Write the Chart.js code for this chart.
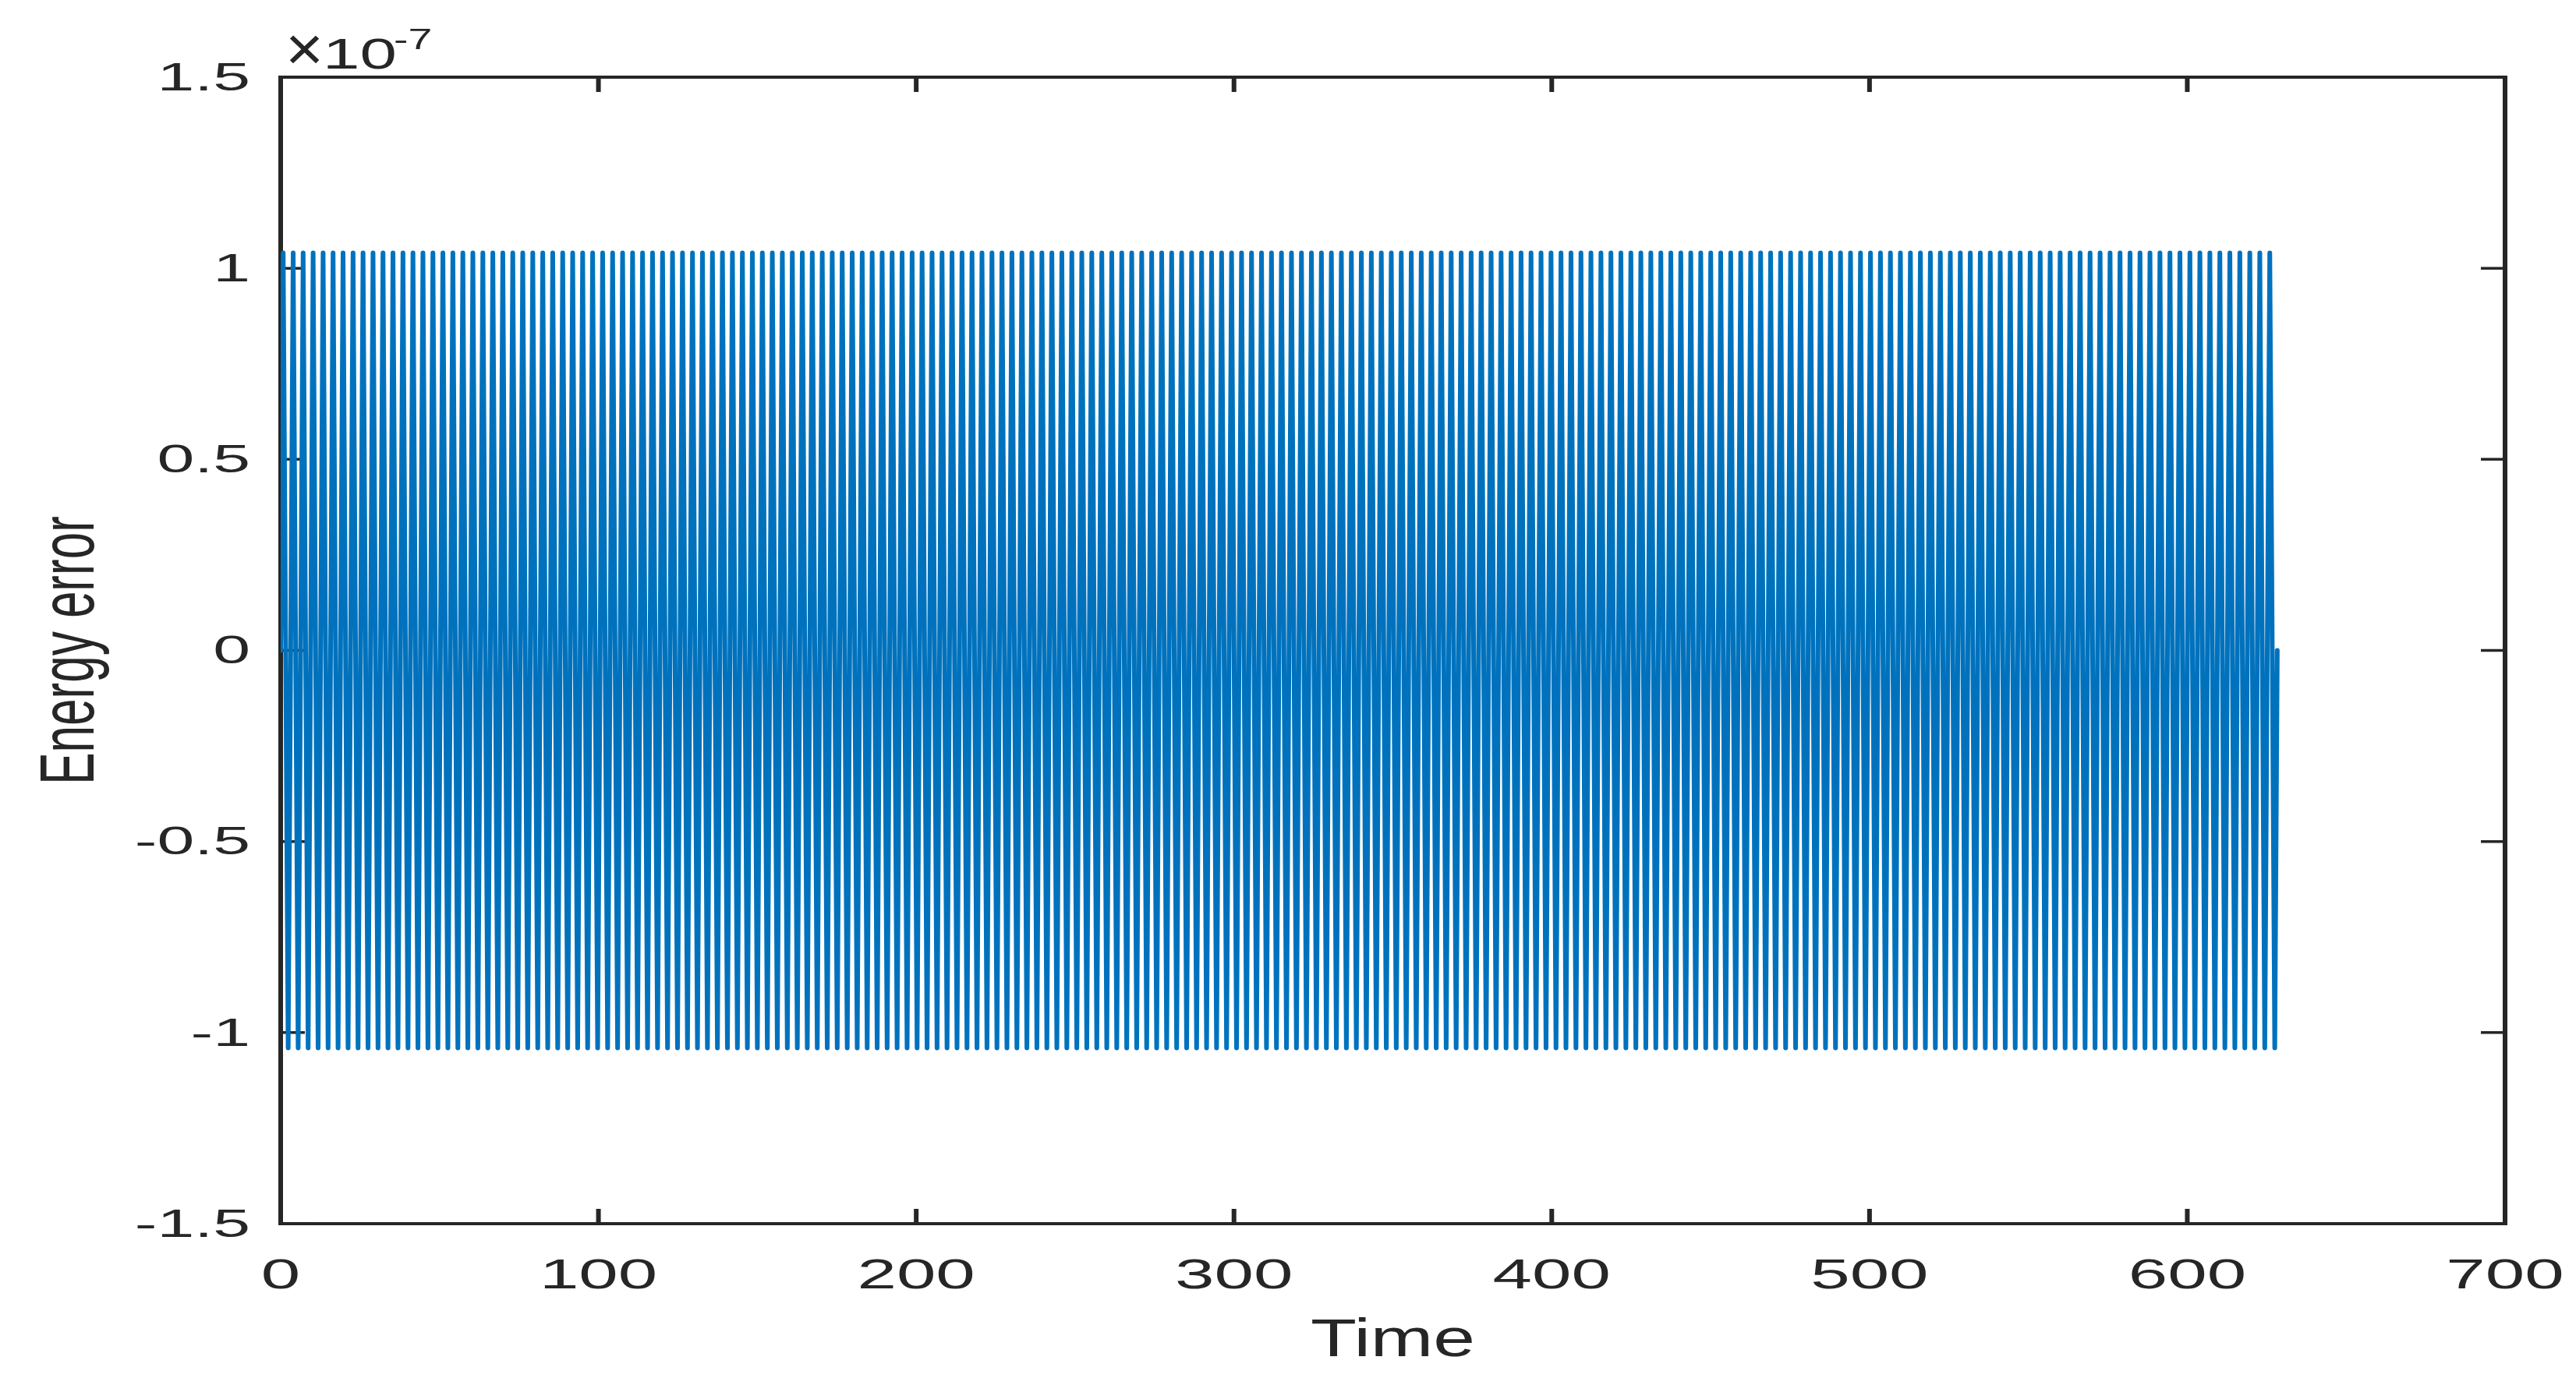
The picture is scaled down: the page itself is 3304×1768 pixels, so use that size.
<!DOCTYPE html>
<html>
<head>
<meta charset="utf-8">
<script src="https://cdn.jsdelivr.net/npm/chart.js@4.4.1/dist/chart.umd.min.js"></script>
<style>
  html,body{margin:0;padding:0;background:#fff;}
  canvas{display:block;}
</style>
</head>
<body>
<canvas id="c" width="3304" height="1768"></canvas>
<script>
// ── DATA ─────────────────────────────────────────────────────
// time of each extreme (start, peaks/troughs, end)
var timeVals=[0,
0.79,2.36,3.93,5.50, 7.07,8.64,10.21,11.78, 13.35,14.92,16.49,18.06, 19.63,21.21,22.78,24.35,
25.92,27.49,29.06,30.63, 32.20,33.77,35.34,36.91, 38.48,40.06,41.63,43.20, 44.77,46.34,47.91,49.48,
51.05,52.62,54.19,55.76, 57.33,58.90,60.48,62.05, 63.62,65.19,66.76,68.33, 69.90,71.47,73.04,74.61,
76.18,77.75,79.33,80.90, 82.47,84.04,85.61,87.18, 88.75,90.32,91.89,93.46, 95.03,96.60,98.17,99.75,
101.32,102.89,104.46,106.03, 107.60,109.17,110.74,112.31, 113.88,115.45,117.02,118.60, 120.17,121.74,123.31,124.88,
126.45,128.02,129.59,131.16, 132.73,134.30,135.87,137.44, 139.02,140.59,142.16,143.73, 145.30,146.87,148.44,150.01,
151.58,153.15,154.72,156.29, 157.87,159.44,161.01,162.58, 164.15,165.72,167.29,168.86, 170.43,172.00,173.57,175.14,
176.71,178.29,179.86,181.43, 183.00,184.57,186.14,187.71, 189.28,190.85,192.42,193.99, 195.56,197.13,198.71,200.28,
201.85,203.42,204.99,206.56, 208.13,209.70,211.27,212.84, 214.41,215.98,217.56,219.13, 220.70,222.27,223.84,225.41,
226.98,228.55,230.12,231.69, 233.26,234.83,236.40,237.98, 239.55,241.12,242.69,244.26, 245.83,247.40,248.97,250.54,
252.11,253.68,255.25,256.83, 258.40,259.97,261.54,263.11, 264.68,266.25,267.82,269.39, 270.96,272.53,274.10,275.67,
277.25,278.82,280.39,281.96, 283.53,285.10,286.67,288.24, 289.81,291.38,292.95,294.52, 296.10,297.67,299.24,300.81,
302.38,303.95,305.52,307.09, 308.66,310.23,311.80,313.37, 314.94,316.52,318.09,319.66, 321.23,322.80,324.37,325.94,
327.51,329.08,330.65,332.22, 333.79,335.37,336.94,338.51, 340.08,341.65,343.22,344.79, 346.36,347.93,349.50,351.07,
352.64,354.21,355.79,357.36, 358.93,360.50,362.07,363.64, 365.21,366.78,368.35,369.92, 371.49,373.06,374.63,376.21,
377.78,379.35,380.92,382.49, 384.06,385.63,387.20,388.77, 390.34,391.91,393.48,395.06, 396.63,398.20,399.77,401.34,
402.91,404.48,406.05,407.62, 409.19,410.76,412.33,413.90, 415.48,417.05,418.62,420.19, 421.76,423.33,424.90,426.47,
428.04,429.61,431.18,432.75, 434.33,435.90,437.47,439.04, 440.61,442.18,443.75,445.32, 446.89,448.46,450.03,451.60,
453.17,454.75,456.32,457.89, 459.46,461.03,462.60,464.17, 465.74,467.31,468.88,470.45, 472.02,473.60,475.17,476.74,
478.31,479.88,481.45,483.02, 484.59,486.16,487.73,489.30, 490.87,492.44,494.02,495.59, 497.16,498.73,500.30,501.87,
503.44,505.01,506.58,508.15, 509.72,511.29,512.87,514.44, 516.01,517.58,519.15,520.72, 522.29,523.86,525.43,527.00,
528.57,530.14,531.71,533.29, 534.86,536.43,538.00,539.57, 541.14,542.71,544.28,545.85, 547.42,548.99,550.56,552.13,
553.71,555.28,556.85,558.42, 559.99,561.56,563.13,564.70, 566.27,567.84,569.41,570.98, 572.56,574.13,575.70,577.27,
578.84,580.41,581.98,583.55, 585.12,586.69,588.26,589.83, 591.40,592.98,594.55,596.12, 597.69,599.26,600.83,602.40,
603.97,605.54,607.11,608.68, 610.25,611.83,613.40,614.97, 616.54,618.11,619.68,621.25, 622.82,624.39,625.96,627.53,
628.32];

// energy error at those times, in units of 1e-7
var errVals=[0,
1.04,-1.04,1.04,-1.04, 1.04,-1.04,1.04,-1.04, 1.04,-1.04,1.04,-1.04, 1.04,-1.04,1.04,-1.04,
1.04,-1.04,1.04,-1.04, 1.04,-1.04,1.04,-1.04, 1.04,-1.04,1.04,-1.04, 1.04,-1.04,1.04,-1.04,
1.04,-1.04,1.04,-1.04, 1.04,-1.04,1.04,-1.04, 1.04,-1.04,1.04,-1.04, 1.04,-1.04,1.04,-1.04,
1.04,-1.04,1.04,-1.04, 1.04,-1.04,1.04,-1.04, 1.04,-1.04,1.04,-1.04, 1.04,-1.04,1.04,-1.04,
1.04,-1.04,1.04,-1.04, 1.04,-1.04,1.04,-1.04, 1.04,-1.04,1.04,-1.04, 1.04,-1.04,1.04,-1.04,
1.04,-1.04,1.04,-1.04, 1.04,-1.04,1.04,-1.04, 1.04,-1.04,1.04,-1.04, 1.04,-1.04,1.04,-1.04,
1.04,-1.04,1.04,-1.04, 1.04,-1.04,1.04,-1.04, 1.04,-1.04,1.04,-1.04, 1.04,-1.04,1.04,-1.04,
1.04,-1.04,1.04,-1.04, 1.04,-1.04,1.04,-1.04, 1.04,-1.04,1.04,-1.04, 1.04,-1.04,1.04,-1.04,
1.04,-1.04,1.04,-1.04, 1.04,-1.04,1.04,-1.04, 1.04,-1.04,1.04,-1.04, 1.04,-1.04,1.04,-1.04,
1.04,-1.04,1.04,-1.04, 1.04,-1.04,1.04,-1.04, 1.04,-1.04,1.04,-1.04, 1.04,-1.04,1.04,-1.04,
1.04,-1.04,1.04,-1.04, 1.04,-1.04,1.04,-1.04, 1.04,-1.04,1.04,-1.04, 1.04,-1.04,1.04,-1.04,
1.04,-1.04,1.04,-1.04, 1.04,-1.04,1.04,-1.04, 1.04,-1.04,1.04,-1.04, 1.04,-1.04,1.04,-1.04,
1.04,-1.04,1.04,-1.04, 1.04,-1.04,1.04,-1.04, 1.04,-1.04,1.04,-1.04, 1.04,-1.04,1.04,-1.04,
1.04,-1.04,1.04,-1.04, 1.04,-1.04,1.04,-1.04, 1.04,-1.04,1.04,-1.04, 1.04,-1.04,1.04,-1.04,
1.04,-1.04,1.04,-1.04, 1.04,-1.04,1.04,-1.04, 1.04,-1.04,1.04,-1.04, 1.04,-1.04,1.04,-1.04,
1.04,-1.04,1.04,-1.04, 1.04,-1.04,1.04,-1.04, 1.04,-1.04,1.04,-1.04, 1.04,-1.04,1.04,-1.04,
1.04,-1.04,1.04,-1.04, 1.04,-1.04,1.04,-1.04, 1.04,-1.04,1.04,-1.04, 1.04,-1.04,1.04,-1.04,
1.04,-1.04,1.04,-1.04, 1.04,-1.04,1.04,-1.04, 1.04,-1.04,1.04,-1.04, 1.04,-1.04,1.04,-1.04,
1.04,-1.04,1.04,-1.04, 1.04,-1.04,1.04,-1.04, 1.04,-1.04,1.04,-1.04, 1.04,-1.04,1.04,-1.04,
1.04,-1.04,1.04,-1.04, 1.04,-1.04,1.04,-1.04, 1.04,-1.04,1.04,-1.04, 1.04,-1.04,1.04,-1.04,
1.04,-1.04,1.04,-1.04, 1.04,-1.04,1.04,-1.04, 1.04,-1.04,1.04,-1.04, 1.04,-1.04,1.04,-1.04,
1.04,-1.04,1.04,-1.04, 1.04,-1.04,1.04,-1.04, 1.04,-1.04,1.04,-1.04, 1.04,-1.04,1.04,-1.04,
1.04,-1.04,1.04,-1.04, 1.04,-1.04,1.04,-1.04, 1.04,-1.04,1.04,-1.04, 1.04,-1.04,1.04,-1.04,
1.04,-1.04,1.04,-1.04, 1.04,-1.04,1.04,-1.04, 1.04,-1.04,1.04,-1.04, 1.04,-1.04,1.04,-1.04,
1.04,-1.04,1.04,-1.04, 1.04,-1.04,1.04,-1.04, 1.04,-1.04,1.04,-1.04, 1.04,-1.04,1.04,-1.04,
0];

var xTicks=[0,100,200,300,400,500,600,700];
var yTicks=[-1.5,-1,-0.5,0,0.5,1,1.5];
var yTickText=['-1.5','-1','-0.5','0','0.5','1','1.5'];

// ── STYLE ────────────────────────────────────────────────────
var INK='#262626', LINE='#0072BD', FONT='"Liberation Sans", Arial, Helvetica, sans-serif';

function sText(ctx,txt,x,y,size,sx,align,base){
  ctx.save();
  ctx.translate(x,y); ctx.scale(sx,1);
  ctx.font=size+'px '+FONT; ctx.fillStyle=INK;
  ctx.textAlign=align; ctx.textBaseline=base;
  ctx.fillText(txt,0,0);
  ctx.restore();
}

var matlabAxes={
  id:'matlabAxes',
  beforeDatasetsDraw:function(chart){
    var c=chart.ctx, a=chart.chartArea, xs=chart.scales.x, ys=chart.scales.y;
    c.save();
    c.strokeStyle=INK; c.lineCap='butt';
    // box
    c.lineWidth=4;
    c.beginPath(); c.moveTo(a.left-3,a.top); c.lineTo(a.right+3,a.top);
    c.moveTo(a.left-3,a.bottom); c.lineTo(a.right+3,a.bottom); c.stroke();
    c.lineWidth=6;
    c.beginPath(); c.moveTo(a.left,a.top); c.lineTo(a.left,a.bottom);
    c.moveTo(a.right,a.top); c.lineTo(a.right,a.bottom); c.stroke();
    // ticks, inside
    c.lineWidth=6;
    xTicks.forEach(function(v){
      var px=xs.getPixelForValue(v);
      c.beginPath(); c.moveTo(px,a.bottom); c.lineTo(px,a.bottom-19);
      c.moveTo(px,a.top); c.lineTo(px,a.top+19); c.stroke();
    });
    c.lineWidth=3.5;
    yTicks.forEach(function(v){
      var py=ys.getPixelForValue(v);
      c.beginPath(); c.moveTo(a.left,py); c.lineTo(a.left+31,py);
      c.moveTo(a.right,py); c.lineTo(a.right-31,py); c.stroke();
    });
    c.restore();
  },
  afterDraw:function(chart){
    var c=chart.ctx, a=chart.chartArea, xs=chart.scales.x, ys=chart.scales.y;
    xTicks.forEach(function(v){
      sText(c,String(v),xs.getPixelForValue(v),1653,54,1.68,'center','alphabetic');
    });
    yTicks.forEach(function(v,i){
      sText(c,yTickText[i],321,ys.getPixelForValue(v)+3,50,1.72,'right','middle');
    });
    // exponent
    sText(c,'\u00d7',366,90,80,1.05,'left','alphabetic');
    sText(c,'10',414,88,55,1.55,'left','alphabetic');
    sText(c,'-7',505,63,37,1.5,'left','alphabetic');
    // axis titles
    sText(c,'Time',(a.left+a.right)/2,1740,69,1.4,'center','alphabetic');
    c.save();
    c.translate(120,(a.top+a.bottom)/2); c.rotate(-Math.PI/2); c.scale(1,1.6);
    c.font='62px '+FONT; c.fillStyle=INK; c.textAlign='center'; c.textBaseline='alphabetic';
    c.fillText('Energy error',0,0);
    c.restore();
  }
};

var pts=timeVals.map(function(t,i){return {x:t,y:errVals[i]};});

new Chart(document.getElementById('c').getContext('2d'),{
  type:'line',
  data:{datasets:[{
    data:pts,
    borderColor:LINE,
    borderWidth:6,
    pointRadius:0,
    tension:0,
    fill:false,
    borderJoinStyle:'round',
    borderCapStyle:'round'
  }]},
  options:{
    responsive:false,
    animation:false,
    devicePixelRatio:1,
    layout:{padding:{left:360,right:91,top:99,bottom:198}},
    plugins:{legend:{display:false},tooltip:{enabled:false}},
    scales:{
      x:{type:'linear',min:0,max:700,ticks:{display:false,stepSize:100},grid:{display:false},border:{display:false},
         afterFit:function(s){s.height=0;}},
      y:{type:'linear',min:-1.5,max:1.5,ticks:{display:false,stepSize:0.5},grid:{display:false},border:{display:false},
         afterFit:function(s){s.width=0;}}
    }
  },
  plugins:[matlabAxes]
});
</script>
</body>
</html>
